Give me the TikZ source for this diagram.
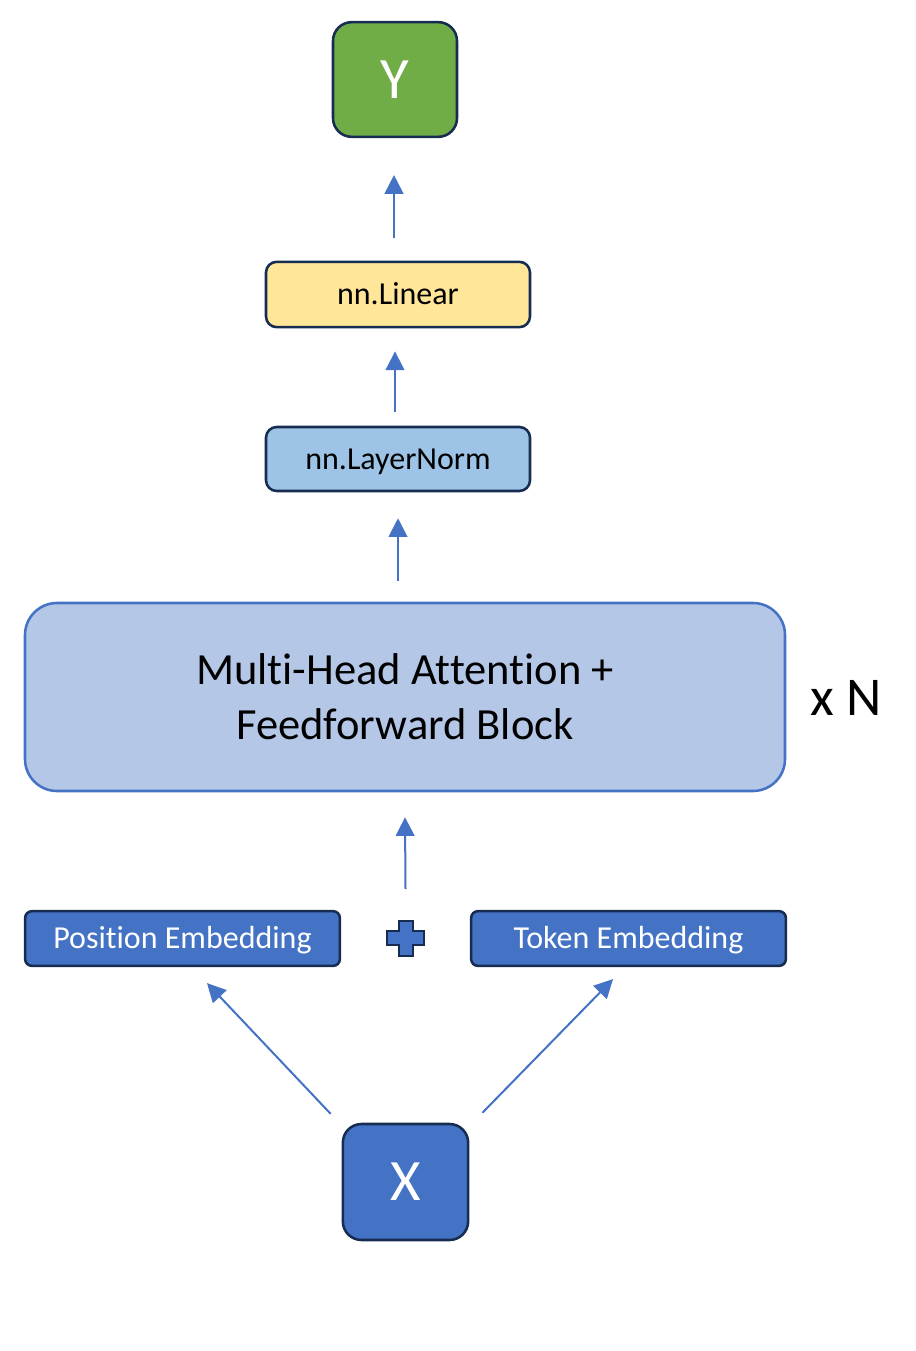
\documentclass[tikz,border=0pt]{standalone}
\usepackage{fontspec}
\setmainfont{Carlito}[Ligatures={NoCommon}]
\usetikzlibrary{arrows.meta,calc}
\definecolor{cgreen}{HTML}{70AD47}
\definecolor{cyellow}{HTML}{FFE699}
\definecolor{clight}{HTML}{9DC3E6}
\definecolor{cmha}{HTML}{B4C7E7}
\definecolor{cblue}{HTML}{4472C4}
\definecolor{cdark}{HTML}{172C51}
\tikzset{
  darkbox/.style={draw=cdark, line width=1.9pt, inner sep=0pt, align=center},
  arr/.style={draw=cblue, line width=1.5pt, -{Triangle[length=14pt,width=14pt]}},
  lbl/.style={font=\fontsize{24}{29}\selectfont, text height=20pt, text depth=5pt},
  big/.style={font=\fontsize{44}{50}\selectfont, text=white}
}
\begin{document}
\begin{tikzpicture}[x=0.75pt,y=-0.75pt]
\useasboundingbox (0,0) rectangle (915,1351);
\node[darkbox, big, fill=cgreen, rounded corners=14pt, minimum width=93pt, minimum height=86pt] (Y) at (395,79.5) {Y};
\node[darkbox, lbl, fill=cyellow, rounded corners=8pt, minimum width=198pt, minimum height=49pt] (lin) at (398,294.5) {nn.Linear};
\node[darkbox, lbl, fill=clight, rounded corners=8pt, minimum width=198pt, minimum height=48pt] (ln) at (398,459) {nn.LayerNorm};
\node[draw=cblue, line width=1.9pt, fill=cmha, rounded corners=24pt, minimum width=570pt, minimum height=141pt, inner sep=0pt, align=center, font=\fontsize{33.4}{41}\selectfont] (mha) at (405,697) {Multi-Head Attention +\\Feedforward Block};
\node[font=\fontsize{41}{48}\selectfont] (xN) at (846,698) {x N};
\node[darkbox, lbl, text=white, fill=cblue, rounded corners=5pt, minimum width=236pt, minimum height=41pt] (pos) at (182.5,938.5) {Position Embedding};
\node[darkbox, lbl, text=white, fill=cblue, rounded corners=5pt, minimum width=236pt, minimum height=41pt] (tok) at (628.5,938.5) {Token Embedding};
\node[darkbox, big, fill=cblue, rounded corners=14pt, minimum width=94pt, minimum height=87pt] (X) at (405.5,1182) {X};
\coordinate (plus) at (405.5,938);
\draw[draw=cdark, fill=cblue, line width=1.5pt] ($(plus)+(-7,-17.5)$) -- ++(14,0) -- ++(0,10.5) -- ++(11.5,0) -- ++(0,14) -- ++(-11.5,0) -- ++(0,10.5) -- ++(-14,0) -- ++(0,-10.5) -- ++(-11.5,0) -- ++(0,-14) -- ++(11.5,0) -- cycle;
\draw[arr] ($(lin.north)+(-4,-23)$) -- ($(Y.south)+(-1,37)$);
\draw[arr] ($(ln.north)+(-3,-14)$) -- ($(lin.south)+(-3,23)$);
\draw[arr] ($(mha.north)+(-7,-21)$) -- ($(ln.south)+(0,26)$);
\draw[arr] ($(plus)+(0,-49)$) -- ($(mha.south)+(0,25)$);
\draw[arr] ($(X.north west)+(-11,-9)$) -- ($(pos.south)+(24.5,16)$);
\draw[arr] ($(X.north east)+(13,-10)$) -- ($(tok.south)+(-15.5,12)$);
\end{tikzpicture}
\end{document}
